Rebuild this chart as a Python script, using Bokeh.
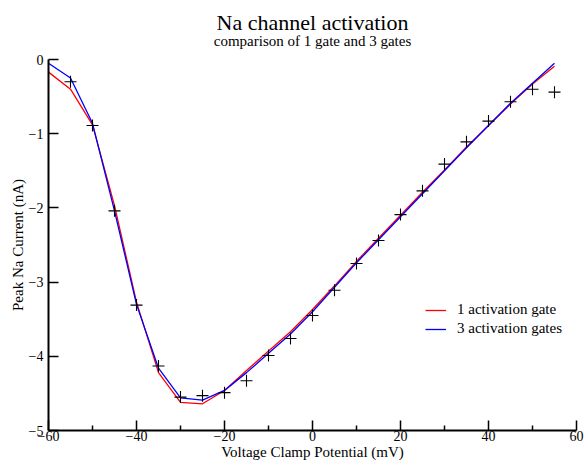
from bokeh.plotting import figure
from bokeh.layouts import column
from bokeh.models import Range1d, FixedTicker, Legend, LegendItem
from bokeh.core.properties import value
from bokeh.embed import file_html
from bokeh.resources import INLINE

# Holding potentials (mV) for the simulated curves
v_model = [-60, -55, -50, -45, -40, -35, -30, -25, -20, -15, -10, -5,
           0, 5, 10, 15, 20, 25, 30, 35, 40, 45, 50, 55]
# Peak Na current (nA), model with a single activation gate
i_one_gate = [-0.17, -0.40, -0.88, -1.97, -3.27, -4.22, -4.62, -4.64, -4.46, -4.19,
              -3.93, -3.67, -3.37, -3.05, -2.72, -2.41, -2.10, -1.79, -1.49, -1.18,
              -0.89, -0.60, -0.33, -0.09]
# Peak Na current (nA), model with three activation gates
i_three_gates = [-0.05, -0.25, -0.86, -2.04, -3.30, -4.16, -4.56, -4.59, -4.46, -4.22,
                 -3.96, -3.70, -3.40, -3.07, -2.74, -2.43, -2.12, -1.81, -1.50, -1.19,
                 -0.89, -0.59, -0.32, -0.05]

# Recorded peak currents
v_data = [-55, -50, -45, -40, -35, -30, -25, -20, -15, -10, -5, 0,
          5, 10, 15, 20, 25, 30, 35, 40, 45, 50, 55]
i_data = [-0.30, -0.89, -2.04, -3.31, -4.13, -4.55, -4.53, -4.49, -4.33, -3.99,
          -3.76, -3.45, -3.11, -2.75, -2.44, -2.09, -1.77, -1.41, -1.11, -0.83,
          -0.57, -0.40, -0.44]

x_ticks = [-60, -40, -20, 0, 20, 40, 60]
x_minor = [-50, -30, -10, 10, 30, 50]
y_ticks = [-5, -4, -3, -2, -1, 0]

title_text = "Na channel activation"
subtitle_text = "comparison of 1 gate and 3 gates"

SERIF = "Liberation Serif"
HEADER_H = 49

x_range = Range1d(-60, 60)

# Header strip holding the title and subtitle; shares the x range so the
# texts sit centred over the plot area. Its y range runs downward from the top.
header = figure(width=586, height=HEADER_H, output_backend="svg", toolbar_location=None,
                x_range=x_range, y_range=Range1d(HEADER_H, 0),
                x_axis_type=None, y_axis_type=None,
                min_border_left=48, min_border_right=10, min_border_top=0,
                min_border_bottom=0, title=None)
header.outline_line_color = None
header.xgrid.visible = False
header.ygrid.visible = False
header.text(x=[0], y=[22], text=[title_text], text_font=value(SERIF),
            text_font_size="22px", text_color="black", text_align="center",
            text_baseline="alphabetic")
header.text(x=[0], y=[40], text=[subtitle_text], text_font=value(SERIF),
            text_font_size="15px", text_color="black", text_align="center",
            text_baseline="alphabetic")

p = figure(width=586, height=463 - HEADER_H, output_backend="svg", toolbar_location=None,
           x_range=x_range, y_range=Range1d(-5, 0),
           min_border_left=48, min_border_right=10, min_border_top=10,
           min_border_bottom=33, title=None)
p.outline_line_color = None
p.xgrid.visible = False
p.ygrid.visible = False
p.background_fill_color = "white"
p.border_fill_color = "white"

for ax in (p.xaxis[0], p.yaxis[0]):
    ax.axis_line_width = 2
    ax.axis_line_color = "black"
    ax.major_tick_in = 10
    ax.major_tick_out = 0
    ax.major_tick_line_width = 1.5
    ax.major_tick_line_color = "black"
    ax.minor_tick_in = 5
    ax.minor_tick_out = 0
    ax.minor_tick_line_width = 1.5
    ax.minor_tick_line_color = "black"
    ax.major_label_text_font = SERIF
    ax.major_label_text_font_size = "14px"
    ax.major_label_text_color = "black"
    ax.axis_label_text_font = SERIF
    ax.axis_label_text_font_size = "15px"
    ax.axis_label_text_font_style = "normal"
    ax.axis_label_text_color = "black"

p.xaxis.ticker = FixedTicker(ticks=x_ticks, minor_ticks=x_minor)
p.yaxis.ticker = FixedTicker(ticks=y_ticks, minor_ticks=[])
p.xaxis.axis_label = "Voltage Clamp Potential (mV)"
p.yaxis.axis_label = "Peak Na Current (nA)"
p.xaxis.major_label_standoff = 0
p.xaxis.axis_label_standoff = 0
p.yaxis.major_label_standoff = 5
p.yaxis.axis_label_standoff = 0

r1 = p.line(v_model, i_one_gate, line_color="#ff0000", line_width=1.3)
r3 = p.line(v_model, i_three_gates, line_color="#0000ff", line_width=1.3)
p.scatter(v_data, i_data, marker="cross", size=12, line_color="black",
          line_width=1.1, fill_color=None)

legend = Legend(items=[LegendItem(label="1 activation gate", renderers=[r1]),
                       LegendItem(label="3 activation gates", renderers=[r3])],
                location=(377, 93), border_line_color=None,
                background_fill_alpha=0, padding=0, margin=0, spacing=2,
                glyph_width=21, glyph_height=16, label_height=16,
                label_standoff=11, label_text_font=SERIF,
                label_text_font_size="15px", label_text_color="black")
p.add_layout(legend, "center")

layout = column(header, p, spacing=0)
open("out.html", "w").write(file_html(layout, INLINE))
